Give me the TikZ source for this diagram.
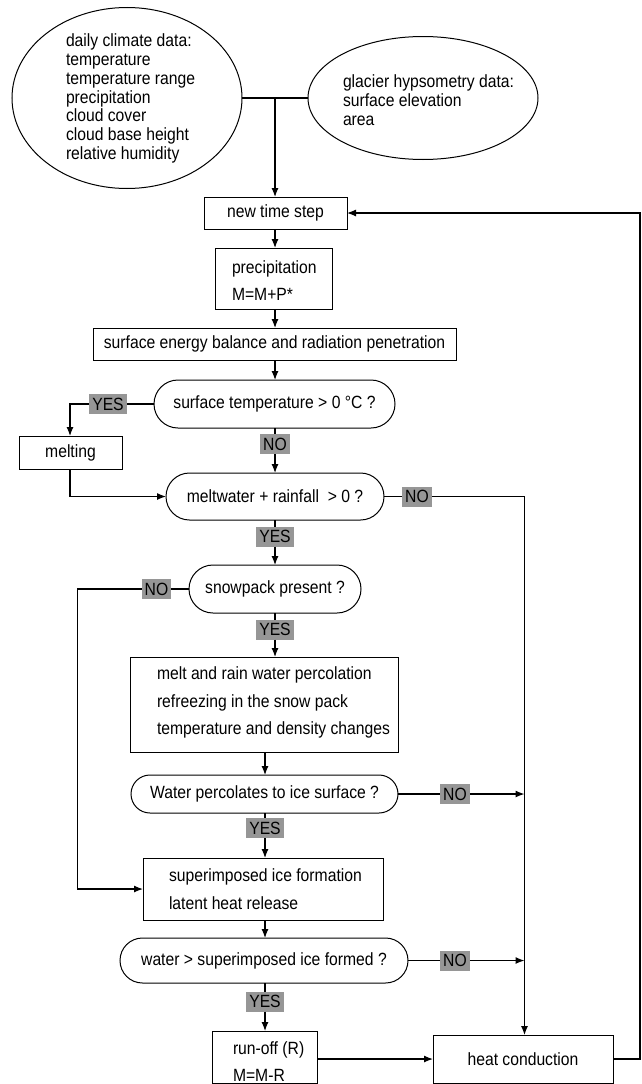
\documentclass[tikz,border=0pt]{standalone}
\usepackage{fontspec}
\setmainfont{Liberation Sans}[FakeStretch=0.887]
\usetikzlibrary{arrows.meta,shapes.geometric}
\definecolor{labgray}{RGB}{150,150,150}
\begin{document}
\begin{tikzpicture}[x=1pt,y=-1pt,
  line width=1.2pt,
  every node/.style={inner sep=0pt, outer sep=0pt},
  txt/.style={font=\fontsize{17.7}{18.9}\selectfont, align=left},
  btxt/.style={font=\fontsize{17.7}{27.5}\selectfont, align=left},
  boxs/.style={draw, rectangle, line width=1pt},
  pill/.style={draw, rectangle, rounded corners=#1, line width=1pt},
  lab/.style={fill=labgray, font=\fontsize{17.7}{18}\selectfont, minimum height=20pt, inner xsep=3pt},
  arr/.style={-{Latex[length=9pt,width=7pt]}},
]
\useasboundingbox (0,0) rectangle (642,1084);

% input ellipses
\node[draw, ellipse, minimum width=230pt, minimum height=181pt, line width=1pt] (clim) at (127,98) {};
\node[txt, anchor=west] (climt) at (66,98.5) {daily climate data:\\temperature\\temperature range\\precipitation\\cloud cover\\cloud base height\\relative humidity};
\node[draw, ellipse, minimum width=230pt, minimum height=123pt, line width=1pt] (hyps) at (423,98) {};
\node[txt, anchor=west] (hypst) at (343,100.5) {glacier hypsometry data:\\surface elevation\\area};

% main column
\node[boxs, minimum width=143pt, minimum height=32pt, btxt] (newstep) at (275.5,213) {new time step};
\node[boxs, minimum width=117pt, minimum height=61pt] (precip) at (273.5,278.5) {};
\node[btxt, anchor=west] (precipt) at (232,280.5) {precipitation\\M=M+P*};
\node[boxs, minimum width=363pt, minimum height=32pt, btxt] (seb) at (274.5,344) {surface energy balance and radiation penetration};
\node[pill=24pt, minimum width=241pt, minimum height=48pt, btxt] (stemp) at (274.5,404) {surface temperature > 0 °C ?};
\node[lab] (yes1) at (108,404) {YES};
\node[boxs, minimum width=103pt, minimum height=33pt, btxt] (melt) at (70.5,452.5) {melting};
\node[lab] (no1) at (275,444) {NO};
\node[pill=23.5pt, minimum width=218pt, minimum height=47pt, btxt] (mw) at (275,496.5) {meltwater + rainfall\ \ > 0 ?};
\node[lab] (no2) at (417,496.5) {NO};
\node[lab] (yes2) at (275,536.5) {YES};
\node[pill=24pt, minimum width=172pt, minimum height=48pt, btxt] (snow) at (275,589) {snowpack present ?};
\node[lab] (no3) at (156.5,589) {NO};
\node[lab] (yes3) at (275,629.5) {YES};
\node[boxs, minimum width=268pt, minimum height=95pt] (perc) at (264,704.5) {};
\node[btxt, anchor=west] (perct) at (157,702.5) {melt and rain water percolation\\refreezing in the snow pack\\temperature and density changes};
\node[pill=19pt, minimum width=267pt, minimum height=38pt, btxt] (wp) at (264.5,794) {Water percolates to ice surface ?};
\node[lab] (no4) at (455,794) {NO};
\node[lab] (yes4) at (265,828) {YES};
\node[boxs, minimum width=240pt, minimum height=62pt] (sif) at (263,889) {};
\node[btxt, anchor=west] (sift) at (169,889) {superimposed ice formation\\latent heat release};
\node[pill=22.5pt, minimum width=288pt, minimum height=45pt, btxt] (ws) at (264,960.5) {water > superimposed ice formed ?};
\node[lab] (no5) at (455,960.5) {NO};
\node[lab] (yes5) at (265,1001.5) {YES};
\node[boxs, minimum width=105pt, minimum height=52pt] (ro) at (264.5,1057) {};
\node[btxt, anchor=west] (rot) at (233,1061.5) {run-off (R)\\M=M-R};
\node[boxs, minimum width=180pt, minimum height=48pt, btxt] (hc) at (523,1059) {heat conduction};

% helper coordinates
\coordinate (j1) at (275,98);
\coordinate (cx) at (275,0);
\coordinate (lx) at (265,0);
\coordinate (rx) at (524.5,0);
\coordinate (fx) at (640,0);
\coordinate (c1) at (70,404);
\coordinate (c2) at (70,496.5);
\coordinate (c3) at (77.5,589);

% connectors
\draw (clim.east) -- (hyps.west);
\draw[arr] (j1) -- (j1 |- newstep.north);
\draw[arr] (cx |- newstep.south) -- (cx |- precip.north);
\draw[arr] (cx |- precip.south) -- (cx |- seb.north);
\draw[arr] (cx |- seb.south) -- (cx |- stemp.north);
\draw (stemp.west) -- (yes1.east);
\draw[arr] (yes1.west) -- (c1) -- (c1 |- melt.north);
\draw (cx |- stemp.south) -- (cx |- no1.north);
\draw[arr] (cx |- no1.south) -- (cx |- mw.north);
\draw[arr] (c2 |- melt.south) -- (c2) -- (mw.west);
\draw (mw.east) -- (no2.west);
\draw[arr] (no2.east) -- (rx |- no2) -- (rx |- hc.north);
\draw (cx |- mw.south) -- (cx |- yes2.north);
\draw[arr] (cx |- yes2.south) -- (cx |- snow.north);
\draw (snow.west) -- (no3.east);
\draw[arr] (no3.west) -- (c3) -- (c3 |- sif.west) -- (sif.west);
\draw (cx |- snow.south) -- (cx |- yes3.north);
\draw[arr] (cx |- yes3.south) -- (cx |- perc.north);
\draw[arr] (lx |- perc.south) -- (lx |- wp.north);
\draw (wp.east) -- (no4.west);
\draw[arr] (no4.east) -- (rx |- no4);
\draw (lx |- wp.south) -- (lx |- yes4.north);
\draw[arr] (lx |- yes4.south) -- (lx |- sif.north);
\draw[arr] (lx |- sif.south) -- (lx |- ws.north);
\draw (ws.east) -- (no5.west);
\draw[arr] (no5.east) -- (rx |- no5);
\draw (lx |- ws.south) -- (lx |- yes5.north);
\draw[arr] (lx |- yes5.south) -- (lx |- ro.north);
\draw[arr] (ro.east |- hc.west) -- (hc.west);
\draw[arr] (hc.east) -- (fx |- hc.east) -- (fx |- newstep.east) -- (newstep.east);
\end{tikzpicture}
\end{document}
